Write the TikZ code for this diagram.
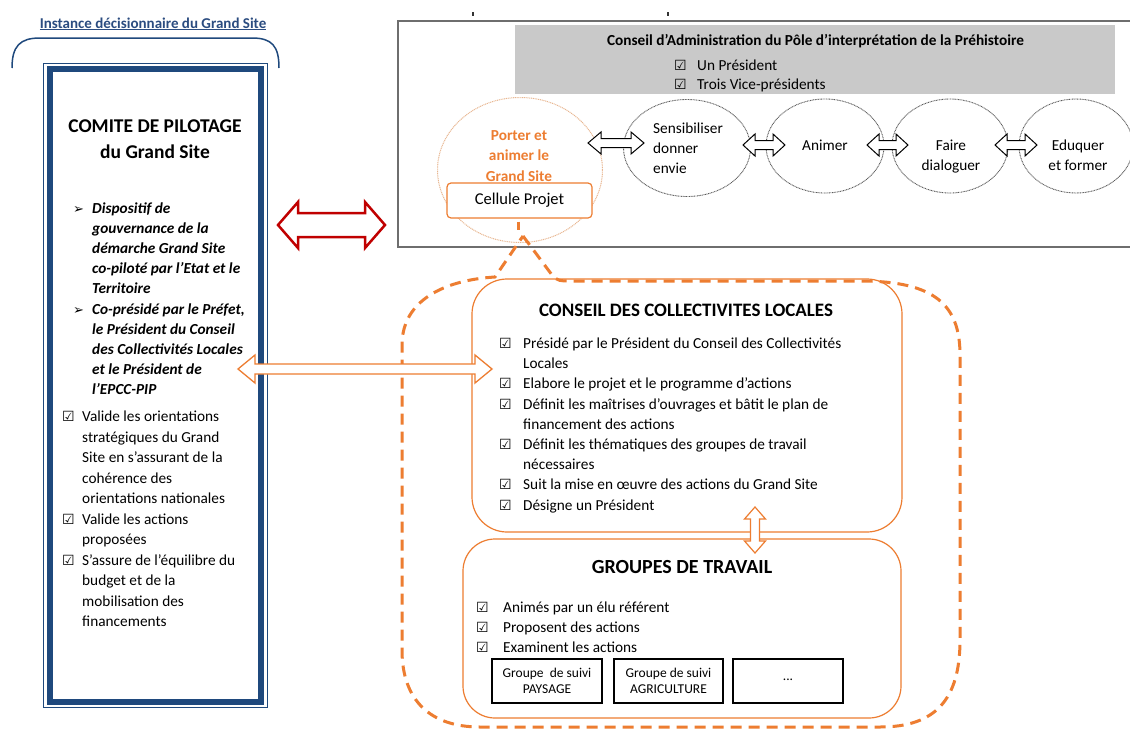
\documentclass[tikz,border=0pt]{standalone}
\usepackage{fontspec}
\setmainfont{Carlito}
\newfontfamily\symf{DejaVu Sans}
\usetikzlibrary{shapes.geometric,calc}
\definecolor{navy}{HTML}{1F497D}
\definecolor{titblue}{HTML}{2B4C80}
\definecolor{org}{HTML}{ED7D31}
\definecolor{orgl}{HTML}{E8B690}
\definecolor{redd}{HTML}{C00000}
\definecolor{gbox}{HTML}{C9C9C9}
\definecolor{frame}{HTML}{6E6E6E}
\newcommand{\fs}[2]{\fontsize{#1}{#2}\selectfont}
\newcommand{\ck}[1]{\makebox[#1][l]{\symf\fontsize{14}{14}\selectfont ☑}}
\newcommand{\arw}{\makebox[19pt][l]{\symf\fontsize{13}{13}\selectfont ➢}}
\newcommand{\ind}[1]{\hspace*{#1}}
% hollow double arrows between two named coordinates
\newcommand{\hdarrow}[6]{%
 \draw[#1] let \p1=(#2), \p2=(#3) in
 (\x1,\y1) -- (\x1+#6pt,\y1+#5pt) -- (\x1+#6pt,\y1+#4pt) -- (\x2-#6pt,\y1+#4pt)
 -- (\x2-#6pt,\y1+#5pt) -- (\x2,\y1) -- (\x2-#6pt,\y1-#5pt) -- (\x2-#6pt,\y1-#4pt)
 -- (\x1+#6pt,\y1-#4pt) -- (\x1+#6pt,\y1-#5pt) -- cycle;}
\newcommand{\vdarrow}[6]{%
 \draw[#1] let \p1=(#2), \p2=(#3) in
 (\x1,\y1) -- (\x1+#5pt,\y1-#6pt) -- (\x1+#4pt,\y1-#6pt) -- (\x1+#4pt,\y2+#6pt)
 -- (\x1+#5pt,\y2+#6pt) -- (\x1,\y2) -- (\x1-#5pt,\y2+#6pt) -- (\x1-#4pt,\y2+#6pt)
 -- (\x1-#4pt,\y1-#6pt) -- (\x1-#5pt,\y1-#6pt) -- cycle;}
\tikzset{
 txt/.style={inner sep=0pt},
 body/.style={txt, font=\fs{15.3}{20.2}},
 gcirc/.style={ellipse, draw={rgb,255:red,90;green,90;blue,90}, line width=0.9pt, dash pattern=on 0.9pt off 0.7pt, inner sep=0pt},
 smallarr/.style={draw=black, line width=1pt, fill=white, line join=miter},
 loopst/.style={draw=org, line width=3pt, dash pattern=on 11pt off 7pt},
 orgbox/.style={draw=org, line width=1.2pt, inner sep=0pt},
 gbsmall/.style={draw=black, line width=1.4pt, inner sep=0pt, minimum height=44pt, align=center, font=\fs{13.5}{16}},
}
\begin{document}
\begin{tikzpicture}[x=1pt,y=-1pt]
\useasboundingbox (0,0) rectangle (1130,731);
\clip (0,0) rectangle (1130,731);
\fill[white] (0,0) rectangle (1130,731);

% ---------- left: instance ----------
\node[txt, anchor=base, font=\bfseries\fs{15}{18}, text=titblue] (inst) at (153,28) {\underline{Instance décisionnaire du Grand Site}};
\draw[navy, line width=1.5pt] (12,68) .. controls (12,46) and (20,38) .. (40,38) -- (252,38) .. controls (272,38) and (279,46) .. (279,68);

\node[draw=navy, line width=1pt, minimum width=224pt, minimum height=644pt, inner sep=0pt] (comite) at (155,385) {};
\draw[navy, line width=6pt] (50,68.5) rectangle (261,701.5);

% multi-line nodes: base anchor = baseline of the last line
\node[txt, anchor=base, align=center, font=\bfseries\fs{19.5}{26}] (comt) at (155,158) {COMITE DE PILOTAGE\\du Grand Site};

\node[txt, anchor=base west, align=left, font=\bfseries\itshape\fs{15.3}{20.2}] (cbul) at (73,394.8)
 {\arw Dispositif de\\\ind{19pt}gouvernance de la\\\ind{19pt}démarche Grand Site\\\ind{19pt}co-piloté par l’Etat et le\\\ind{19pt}Territoire\\
  \arw Co-présidé par le Préfet,\\\ind{19pt}le Président du Conseil\\\ind{19pt}des Collectivités Locales\\\ind{19pt}et le Président de\\\ind{19pt}l’EPCC-PIP};

\node[body, anchor=base west, align=left, font=\fs{15.3}{20.5}] (cval) at (62,626.5)
 {\ck{20pt}Valide les orientations\\\ind{20pt}stratégiques du Grand\\\ind{20pt}Site en s’assurant de la\\\ind{20pt}cohérence des\\\ind{20pt}orientations nationales\\
  \ck{20pt}Valide les actions\\\ind{20pt}proposées\\
  \ck{20pt}S’assure de l’équilibre du\\\ind{20pt}budget et de la\\\ind{20pt}mobilisation des\\\ind{20pt}financements};

% ---------- top right box ----------
\fill[black!80] (472,12) rectangle (474,16);
\fill[black!80] (667,12) rectangle (669,16);
\node[draw=frame, line width=1.5pt, minimum width=742pt, minimum height=226pt, inner sep=0pt] (topbox) at (769,134) {};
\node[fill=gbox, minimum width=600pt, minimum height=69pt, inner sep=0pt] (ca) at (815,59.5) {};
\node[txt, anchor=base, font=\bfseries\fs{15.3}{19}] (cat) at (815.5,45) {Conseil d’Administration du Pôle d’interprétation de la Préhistoire};
\node[body, anchor=base west, align=left, font=\fs{15.3}{19}] (cai) at (674,89.5) {\ck{23pt}Un Président\\\ck{23pt}Trois Vice-présidents};

\node[ellipse, draw=orgl, line width=1pt, dash pattern=on 1pt off 0.8pt, minimum width=165pt, minimum height=145pt, inner sep=0pt] (c0) at (520,170) {};
\node[gcirc, minimum width=127pt, minimum height=97pt] (c1) at (687,148) {};
\node[gcirc, minimum width=118pt, minimum height=94pt] (c2) at (825,146) {};
\node[gcirc, minimum width=116pt, minimum height=94pt] (c3) at (950,146) {};
\node[gcirc, minimum width=114pt, minimum height=94pt] (c4) at (1076,146) {};

\node[txt, anchor=base, align=center, font=\bfseries\fs{15.3}{20.5}, text=org] (t0) at (519,181) {Porter et\\animer le\\Grand Site};
\node[body, anchor=base west, align=left, font=\fs{15.3}{20}] (t1) at (653,173) {Sensibiliser\\donner\\envie};
\node[body, anchor=base] (t2) at (825,150) {Animer};
\node[body, anchor=base, align=center, font=\fs{15.3}{20}] (t3) at (951,170) {Faire\\dialoguer};
\node[body, anchor=base, align=center, font=\fs{15.3}{20}] (t4) at (1078,170) {Eduquer\\et former};

\coordinate (a1L) at (588,143); \coordinate (a1R) at (644,143);
\coordinate (a2L) at (743,145); \coordinate (a2R) at (785,145);
\coordinate (a3L) at (867,145); \coordinate (a3R) at (908,145);
\coordinate (a4L) at (995,145); \coordinate (a4R) at (1037,145);
\hdarrow{smallarr}{a1L}{a1R}{4.5}{11}{13}
\hdarrow{smallarr}{a2L}{a2R}{4.5}{11}{12}
\hdarrow{smallarr}{a3L}{a3R}{4.5}{11}{12}
\hdarrow{smallarr}{a4L}{a4R}{4.5}{11}{12}

\node[orgbox, rounded corners=4pt, fill=white, minimum width=145pt, minimum height=35pt, font=\fs{16.5}{18}] (cell) at (519.5,200.5) {Cellule Projet};

% ---------- red arrow ----------
\coordinate (rL) at (278,225); \coordinate (rR) at (385,225);
\hdarrow{draw=redd, line width=2.5pt, fill=white, line join=miter}{rL}{rR}{12}{23}{20}

% ---------- dashed loop ----------
\coordinate (apex) at (523,236);
\draw[loopst] ($(cell.south)+(-1.5,3)$) -- ($(cell.south)+(-1.5,11)$);
\draw[loopst] (apex) -- (552,275) .. controls (558,281) .. (575,281) -- (860,281)
  .. controls (935,281) and (960,305) .. (960,355) -- (960,640)
  .. controls (960,700) and (935,727) .. (880,727) -- (480,727)
  .. controls (430,727) and (402,700) .. (402,650) -- (402,345)
  .. controls (402,300) and (445,280) .. (495,277) -- cycle;

% ---------- CCL ----------
\node[orgbox, rounded corners=35pt, minimum width=430pt, minimum height=253pt] (ccl) at (687,405.5) {};
\node[txt, anchor=base, font=\bfseries\fs{19}{22}] (cclt) at (686,316) {CONSEIL DES COLLECTIVITES LOCALES};
\node[body, anchor=base west, align=left] (ccli) at (499,510.1)
 {\ck{24pt}Présidé par le Président du Conseil des Collectivités\\\ind{24pt}Locales\\
  \ck{24pt}Elabore le projet et le programme d’actions\\
  \ck{24pt}Définit les maîtrises d’ouvrages et bâtit le plan de\\\ind{24pt}financement des actions\\
  \ck{24pt}Définit les thématiques des groupes de travail\\\ind{24pt}nécessaires\\
  \ck{24pt}Suit la mise en œuvre des actions du Grand Site\\
  \ck{24pt}Désigne un Président};

% ---------- GT ----------
\node[orgbox, rounded corners=32pt, minimum width=438pt, minimum height=179pt] (gt) at (682,628.5) {};
\node[txt, anchor=base, font=\bfseries\fs{20}{22}] (gtt) at (682,573.5) {GROUPES DE TRAVAIL};
\node[body, anchor=base west, align=left, font=\fs{15.3}{20}] (gti) at (476,652)
 {\ck{27pt}Animés par un élu référent\\\ck{27pt}Proposent des actions\\\ck{27pt}Examinent les actions};
\node[gbsmall, minimum width=110pt] (g1) at (547,681) {Groupe\ \ de suivi\\PAYSAGE};
\node[gbsmall, minimum width=109pt] (g2) at (668.5,681) {Groupe de suivi\\AGRICULTURE};
\node[gbsmall, minimum width=110pt] (g3) at (788,681) {\raisebox{2pt}{...}};

% ---------- orange arrows ----------
\coordinate (oL) at (238,369); \coordinate (oR) at (492,369);
\hdarrow{draw=org, line width=1.3pt, fill=white, line join=miter}{oL}{oR}{5}{14}{17}
\coordinate (vT) at (755,507); \coordinate (vB) at (755,553);
\vdarrow{draw=org, line width=1.2pt, fill=white, line join=miter}{vT}{vB}{4.5}{10.5}{12}
\end{tikzpicture}
\end{document}
